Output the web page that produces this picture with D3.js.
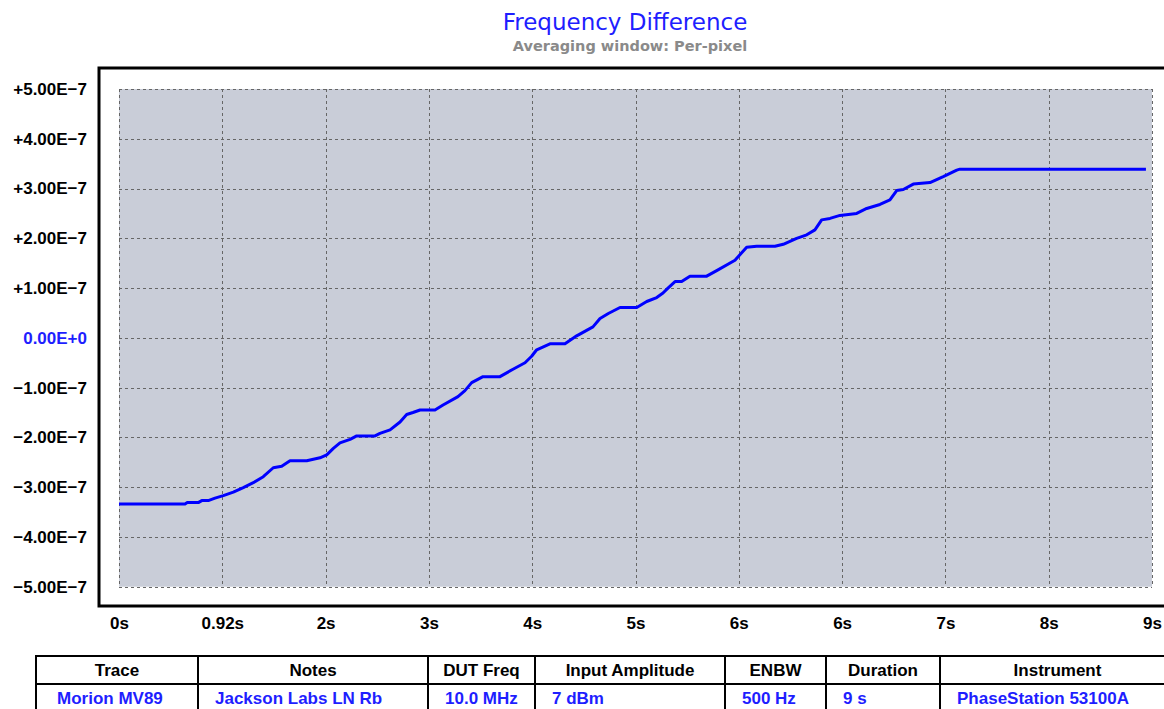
<!DOCTYPE html>
<html>
<head>
<meta charset="utf-8">
<script src="https://cdn.jsdelivr.net/npm/d3@7"></script>
<style>
  body { margin: 0; background: #fff; }
  svg { display: block; }
  .lbl { font-family: "Liberation Sans", Arial, sans-serif; font-weight: bold; font-size: 17px; fill: #000; }
</style>
</head>
<body>
<svg id="chart" width="1164" height="709"></svg>
<script>
// data: time (s) and frequency difference
var times = [0, 0.588, 0.608, 0.706, 0.737, 0.795, 0.855, 0.929, 1.018, 1.107, 1.196, 1.285, 1.374, 1.449, 1.523, 1.672,
  1.790, 1.850, 1.909, 1.968, 2.058, 2.117, 2.280, 2.324, 2.414, 2.503, 2.562, 2.618, 2.681, 2.814, 2.886, 3.019,
  3.081, 3.141, 3.242, 3.393, 3.509, 3.616, 3.675, 3.720, 3.838, 3.972, 4.076, 4.221, 4.284, 4.358, 4.462, 4.611,
  4.700, 4.789, 4.845, 4.889, 4.952, 5.011, 5.085, 5.234, 5.323, 5.486, 5.590, 5.679, 5.842, 5.916, 6.035, 6.125,
  6.198, 6.258, 6.332, 6.421, 6.570, 6.659, 6.777, 6.866, 6.926, 6.985, 7.074, 7.223, 7.341, 7.461, 7.490, 9.146];
var freqDiff = [-3.34, -3.34, -3.31, -3.31, -3.27, -3.27, -3.22, -3.17, -3.10, -3.01, -2.91, -2.79, -2.61, -2.58, -2.47, -2.47,
  -2.41, -2.35, -2.22, -2.11, -2.04, -1.97, -1.97, -1.92, -1.85, -1.69, -1.54, -1.50, -1.45, -1.45, -1.35, -1.18,
  -1.06, -0.90, -0.78, -0.78, -0.63, -0.50, -0.37, -0.24, -0.12, -0.12, 0.04, 0.22, 0.39, 0.49, 0.61, 0.61,
  0.73, 0.81, 0.90, 1.00, 1.13, 1.13, 1.24, 1.24, 1.35, 1.56, 1.82, 1.84, 1.84, 1.88, 2.00, 2.07,
  2.17, 2.37, 2.40, 2.46, 2.50, 2.60, 2.68, 2.77, 2.96, 2.98, 3.09, 3.12, 3.24, 3.37, 3.39, 3.39].map(function(v) { return v * 1e-7; });

var xTickValues = [0, 0.92, 1.84, 2.76, 3.68, 4.6, 5.52, 6.44, 7.36, 8.28, 9.2];
var xTickLabels = ["0s", "0.92s", "2s", "3s", "4s", "5s", "6s", "6s", "7s", "8s", "9s"];
var yTickValues = [5e-7, 4e-7, 3e-7, 2e-7, 1e-7, 0, -1e-7, -2e-7, -3e-7, -4e-7, -5e-7];
var yTickLabels = ["+5.00E\u22127", "+4.00E\u22127", "+3.00E\u22127", "+2.00E\u22127", "+1.00E\u22127", "0.00E+0",
  "\u22121.00E\u22127", "\u22122.00E\u22127", "\u22123.00E\u22127", "\u22124.00E\u22127", "\u22125.00E\u22127"];

var tableHeaders = ["Trace", "Notes", "DUT Freq", "Input Amplitude", "ENBW", "Duration", "Instrument"];
var tableRow = ["Morion MV89", "Jackson Labs LN Rb", "10.0 MHz", "7 dBm", "500 Hz", "9 s", "PhaseStation 53100A"];

var data = times.map(function(t, i) { return {t: t, v: freqDiff[i]}; });

var svg = d3.select("#chart");
var plot = {left: 119, right: 1152, top: 89, bottom: 586.7};

var x = d3.scaleLinear().domain([0, 9.2]).range([plot.left, plot.right]);
var y = d3.scaleLinear().domain([-5e-7, 5e-7]).range([plot.bottom, plot.top]);

// titles
svg.append("text")
    .attr("x", 625).attr("y", 30)
    .attr("text-anchor", "middle")
    .style("font-family", "'DejaVu Sans', sans-serif")
    .style("font-size", "23px")
    .style("fill", "#1e1eff")
    .text("Frequency Difference");
svg.append("text")
    .attr("x", 630).attr("y", 51)
    .attr("text-anchor", "middle")
    .style("font-family", "'DejaVu Sans', sans-serif")
    .style("font-weight", "bold")
    .style("font-size", "14.5px")
    .style("fill", "#8a8a8a")
    .text("Averaging window: Per-pixel");

// outer frame
svg.append("rect")
    .attr("x", 99).attr("y", 68)
    .attr("width", 1164 - 99 + 10).attr("height", 606 - 68)
    .attr("fill", "#fff")
    .attr("stroke", "#000")
    .attr("stroke-width", 3);

// plot background
svg.append("rect")
    .attr("x", plot.left).attr("y", plot.top)
    .attr("width", plot.right - plot.left).attr("height", plot.bottom - plot.top)
    .attr("fill", "#c9cdd8");

// grid
var grid = svg.append("g")
    .attr("stroke", "#666")
    .attr("stroke-width", 1)
    .attr("stroke-dasharray", "3,3");
grid.selectAll("line.v").data(xTickValues).enter().append("line")
    .attr("x1", function(d) { return Math.round(x(d)) + 0.5; })
    .attr("x2", function(d) { return Math.round(x(d)) + 0.5; })
    .attr("y1", plot.top).attr("y2", plot.bottom);
grid.selectAll("line.h").data(yTickValues).enter().append("line")
    .attr("y1", function(d) { return Math.round(y(d)) + 0.5; })
    .attr("y2", function(d) { return Math.round(y(d)) + 0.5; })
    .attr("x1", plot.left).attr("x2", plot.right);

// the trace
var line = d3.line()
    .x(function(d) { return x(d.t); })
    .y(function(d) { return y(d.v); });
svg.append("path")
    .datum(data)
    .attr("fill", "none")
    .attr("stroke", "#0000ff")
    .attr("stroke-width", 3)
    .attr("stroke-linejoin", "round")
    .attr("d", line);

// Y axis labels
var yAxis = svg.append("g")
    .attr("transform", "translate(" + plot.left + ",0)")
    .call(d3.axisLeft(y).tickValues(yTickValues).tickSize(0).tickPadding(32)
        .tickFormat(function(d, i) { return yTickLabels[i]; }));
yAxis.select(".domain").remove();
yAxis.selectAll("text")
    .attr("class", "lbl")
    .attr("font-family", null).attr("font-size", null)
    .style("fill", function(d) { return d === 0 ? "#1e1eff" : "#000"; });

// X axis labels
var xAxis = svg.append("g")
    .attr("transform", "translate(0," + plot.bottom + ")")
    .call(d3.axisBottom(x).tickValues(xTickValues).tickSize(0).tickPadding(30)
        .tickFormat(function(d, i) { return xTickLabels[i]; }));
xAxis.select(".domain").remove();
xAxis.selectAll("text")
    .attr("class", "lbl")
    .attr("font-family", null).attr("font-size", null);

// info table
var colEdges = [36, 198, 428, 535, 725, 826, 940, 1175];
var rowTop = 656, rowH = 28;
var table = svg.append("g");
table.append("rect")
    .attr("x", colEdges[0]).attr("y", rowTop)
    .attr("width", colEdges[colEdges.length - 1] - colEdges[0]).attr("height", rowH * 2)
    .attr("fill", "#fff").attr("stroke", "#000").attr("stroke-width", 2);
table.append("line")
    .attr("x1", colEdges[0]).attr("x2", colEdges[colEdges.length - 1])
    .attr("y1", rowTop + rowH).attr("y2", rowTop + rowH)
    .attr("stroke", "#000").attr("stroke-width", 2);
table.selectAll("line.col").data(colEdges.slice(1, -1)).enter().append("line")
    .attr("x1", function(d) { return d; }).attr("x2", function(d) { return d; })
    .attr("y1", rowTop).attr("y2", rowTop + rowH * 2)
    .attr("stroke", "#000").attr("stroke-width", 2);
table.selectAll("text.head").data(tableHeaders).enter().append("text")
    .attr("x", function(d, i) { return (colEdges[i] + colEdges[i + 1]) / 2; })
    .attr("y", rowTop + 20)
    .attr("text-anchor", "middle")
    .style("font-family", "'Liberation Sans', Arial, sans-serif")
    .style("font-weight", "bold").style("font-size", "17px")
    .text(function(d) { return d; });
table.selectAll("text.cell").data(tableRow).enter().append("text")
    .attr("x", function(d, i) { return colEdges[i] + (i === 0 ? 21 : 17); })
    .attr("y", rowTop + rowH + 20)
    .style("font-family", "'Liberation Sans', Arial, sans-serif")
    .style("font-weight", "bold").style("font-size", "17px")
    .style("fill", "#1e1eff")
    .text(function(d) { return d; });
</script>
</body>
</html>
